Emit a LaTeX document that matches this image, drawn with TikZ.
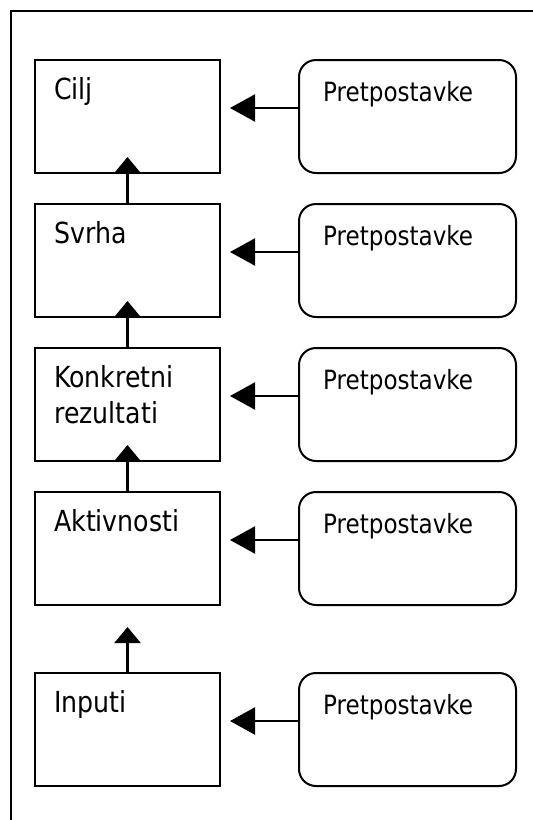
\documentclass[tikz,border=0pt]{standalone}
\usepackage{fontspec}
\setmainfont{DejaVu Sans}[FakeStretch=0.87]
\usetikzlibrary{arrows.meta}
\tikzset{
  lbox/.style={draw, line width=2pt, rectangle, minimum width=185pt, minimum height=113pt, inner sep=0pt, anchor=north west},
  rbox/.style={draw, line width=2pt, rectangle, rounded corners=17pt, minimum width=217pt, minimum height=113pt, inner sep=0pt, anchor=north west},
  ltext/.style={anchor=base west, inner sep=0pt, font=\fontsize{29}{36}\selectfont, align=left},
  rtext/.style={anchor=base west, inner sep=0pt, font=\fontsize{26.5}{32}\selectfont},
  harrow/.style={line width=2.2pt, -{Triangle[length=25pt,width=27pt]}},
  varrow/.style={line width=2.2pt, -{Triangle[length=16pt,width=26pt]}},
  frameline/.style={line width=2pt}
}
\begin{document}
\begin{tikzpicture}[x=1pt,y=-1pt]
\useasboundingbox (0,0) rectangle (533,820);
\draw[frameline] (11,840) -- (11,11) -- (550,11);
% left boxes
\node[lbox] (l1) at (34,59) {};
\node[lbox] (l2) at (34,203) {};
\node[lbox] (l3) at (34,347) {};
\node[lbox] (l4) at (34,491) {};
\node[lbox] (l5) at (34,672) {};
% right boxes
\node[rbox] (r1) at (298,59) {};
\node[rbox] (r2) at (298,203) {};
\node[rbox] (r3) at (298,347) {};
\node[rbox] (r4) at (298,491) {};
\node[rbox] (r5) at (298,672) {};
% texts
\node[ltext] (t1) at (54,99) {Cilj};
\node[ltext] (t2) at (54,243) {Svrha};
\node[ltext] (t3) at (54,423) {Konkretni\\rezultati};
\node[ltext] (t4) at (54,531) {Aktivnosti};
\node[ltext] (t5) at (54,712) {Inputi};
\node[rtext] (p1) at (323,101) {Pretpostavke};
\node[rtext] (p2) at (323,245) {Pretpostavke};
\node[rtext] (p3) at (323,389) {Pretpostavke};
\node[rtext] (p4) at (323,533) {Pretpostavke};
\node[rtext] (p5) at (323,714) {Pretpostavke};
% horizontal arrows
\foreach \i in {1,...,5}{
  \draw[harrow] ([yshift=8.5pt]r\i.west) -- ([xshift=9pt,yshift=8.5pt]l\i.east);
}
% vertical arrows
\draw[varrow] (l2.north) -- ([yshift=17pt]l1.south);
\draw[varrow] (l3.north) -- ([yshift=17pt]l2.south);
\draw[varrow] (l4.north) -- ([yshift=17pt]l3.south);
\draw[varrow] (l5.north) -- ([yshift=-21pt]l4.south);
\end{tikzpicture}
\end{document}
